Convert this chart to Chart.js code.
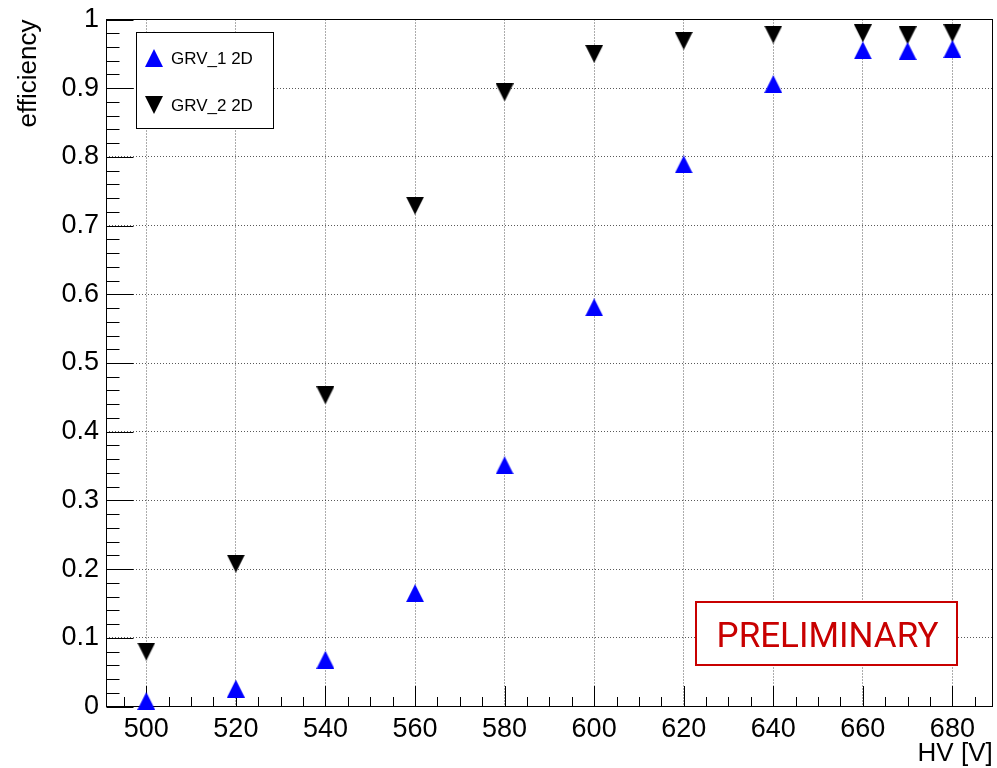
<!DOCTYPE html>
<html><head><meta charset="utf-8">
<script src="https://cdn.jsdelivr.net/npm/chart.js@4/dist/chart.umd.min.js"></script>
<style>html,body{margin:0;padding:0;background:#fff;overflow:hidden;} canvas{display:block;}</style>
</head><body>
<canvas id="c" width="997" height="768"></canvas>
<script>
// ---- data ----
const hvValues   = [500, 520, 540, 560, 580, 600, 620, 640, 660, 670, 680];
const grv1Eff    = [0.008, 0.026, 0.068, 0.165, 0.351, 0.581, 0.789, 0.906, 0.955, 0.954, 0.957];
const grv2Eff    = [0.080, 0.208, 0.453, 0.729, 0.894, 0.950, 0.969, 0.978, 0.980, 0.977, 0.980];
const seriesLabels = ['GRV_1 2D', 'GRV_2 2D'];
const xTickValues = [500, 520, 540, 560, 580, 600, 620, 640, 660, 680];
const yTickValues = [0, 0.1, 0.2, 0.3, 0.4, 0.5, 0.6, 0.7, 0.8, 0.9, 1];
const xTitle = 'HV [V]';
const yTitle = 'efficiency';
const stampText = 'PRELIMINARY';

// ---- marker images (ROOT style triangles, centred on bounding box) ----
function triangle(color, up) {
  const c = document.createElement('canvas');
  c.width = 18; c.height = 18;
  const g = c.getContext('2d');
  g.fillStyle = color;
  g.beginPath();
  if (up) { g.moveTo(9, 0); g.lineTo(18, 18); g.lineTo(0, 18); }
  else    { g.moveTo(0, 0); g.lineTo(18, 0); g.lineTo(9, 18); }
  g.closePath(); g.fill();
  return c;
}
const markerUp = triangle('#0000ff', true);
const markerDown = triangle('#000000', false);
const markers = [markerUp, markerDown];

const FONT = "'Liberation Sans', Arial, Helvetica, sans-serif";
const AREA = { left: 106, right: 992.7, top: 19.5, bottom: 706.5 };

// ---- pin the plot frame to the ROOT pad geometry ----
const areaPlugin = {
  id: 'area',
  afterLayout(chart) {
    const a = chart.chartArea;
    Object.assign(a, AREA);
    a.width = AREA.right - AREA.left; a.height = AREA.bottom - AREA.top;
    const {x, y} = chart.scales;
    x.left = AREA.left; x.right = AREA.right; x.width = a.width;
    x.top = AREA.bottom; x.bottom = chart.height; x.height = chart.height - AREA.bottom;
    y.left = 0; y.right = AREA.left; y.width = AREA.left;
    y.top = AREA.top; y.bottom = AREA.bottom; y.height = a.height;
    x.configure(); y.configure();
  }
};

// ---- frame + inward ticks (ROOT look) ----
const framePlugin = {
  id: 'frame',
  beforeDatasetsDraw(chart) {
    const {ctx, chartArea: a, scales: {x, y}} = chart;
    const L = Math.floor(a.left) + 0.5, R = Math.floor(a.right) + 0.5;
    const T = Math.floor(a.top) + 0.5, B = Math.floor(a.bottom) + 0.5;
    ctx.save();
    ctx.strokeStyle = '#000';
    ctx.lineWidth = 1;
    ctx.beginPath();
    for (let v = Math.ceil(x.min / 5) * 5; v <= x.max; v += 5) {
      const px = Math.round(x.getPixelForValue(v)) + 0.5;
      const len = (v % 20 === 0) ? 20.5 : 9.5;
      ctx.moveTo(px, B); ctx.lineTo(px, B - len);
    }
    for (let i = 0; i <= 50; i++) {
      const v = i * 0.02;
      const py = Math.round(y.getPixelForValue(v)) + 0.5;
      const len = (i % 5 === 0) ? 27 : 13;
      ctx.moveTo(L, py); ctx.lineTo(L + len, py);
    }
    ctx.stroke();
    ctx.strokeRect(L, T, R - L, B - T);
    ctx.restore();
  }
};

// ---- legend + stamp ----
const overlayPlugin = {
  id: 'overlay',
  afterDatasetsDraw(chart) {
    const {ctx} = chart;
    ctx.save();
    ctx.fillStyle = '#fff';
    ctx.fillRect(136.5, 32.5, 137, 96);
    ctx.strokeStyle = '#000';
    ctx.lineWidth = 1;
    ctx.strokeRect(136.5, 32.5, 137, 96);
    const rows = [58, 105];
    chart.data.datasets.forEach((ds, i) => {
      const m = markers[i];
      ctx.drawImage(m, 154 - m.width / 2, rows[i] - m.height / 2);
      ctx.fillStyle = '#000';
      ctx.font = '17px ' + FONT;
      ctx.textAlign = 'left';
      ctx.textBaseline = 'alphabetic';
      ctx.fillText(ds.label, 171, rows[i] + 6.3);
    });
    ctx.fillStyle = '#fff';
    ctx.fillRect(696, 602, 261, 63);
    ctx.strokeStyle = 'rgb(200,0,0)';
    ctx.lineWidth = 2;
    ctx.strokeRect(696, 602, 261, 63);
    ctx.fillStyle = 'rgb(200,0,0)';
    ctx.font = "35px Roboto, 'Liberation Sans', sans-serif";
    ctx.textAlign = 'center';
    ctx.textBaseline = 'alphabetic';
    ctx.fillText(stampText, 827.5, 647);
    ctx.restore();
  }
};

const gridCommon = { color: 'rgba(0,0,0,0.65)', lineWidth: 1, drawTicks: false };
const fmt = v => String(+Number(v).toFixed(3));

new Chart(document.getElementById('c').getContext('2d'), {
  type: 'scatter',
  data: {
    datasets: [
      { label: seriesLabels[0], data: hvValues.map((v, i) => ({x: v, y: grv1Eff[i]})),
        pointStyle: markerUp, pointRadius: 9, pointHoverRadius: 9, showLine: false, clip: false },
      { label: seriesLabels[1], data: hvValues.map((v, i) => ({x: v, y: grv2Eff[i]})),
        pointStyle: markerDown, pointRadius: 9, pointHoverRadius: 9, showLine: false, clip: false }
    ]
  },
  options: {
    responsive: false,
    animation: false,
    events: [],
    layout: { padding: { top: 19.5, right: 4.3, left: 0, bottom: 0 } },
    plugins: { legend: { display: false }, tooltip: { enabled: false } },
    scales: {
      x: {
        type: 'linear', min: 491, max: 689,
        afterFit(s) { s.height = 61.5; s.paddingLeft = 0; s.paddingRight = 0; },
        afterBuildTicks(s) { s.ticks = xTickValues.map(v => ({ value: v })); },
        grid: gridCommon,
        border: { display: false, dash: [1, 2] },
        ticks: { color: '#000', font: { family: FONT, size: 27 }, padding: 7, maxRotation: 0, autoSkip: false, callback: fmt },
        title: { display: true, text: xTitle, align: 'end', color: '#000',
                 font: { family: FONT, size: 26, lineHeight: 1 }, padding: { top: 0, bottom: 1 } }
      },
      y: {
        type: 'linear', min: 0, max: 1,
        afterFit(s) { s.width = 106; s.paddingTop = 0; s.paddingBottom = 0; },
        afterBuildTicks(s) { s.ticks = yTickValues.map(v => ({ value: v })); },
        grid: gridCommon,
        border: { display: false, dash: [1, 2] },
        ticks: { color: '#000', font: { family: FONT, size: 27 }, padding: 7, autoSkip: false, callback: fmt },
        title: { display: true, text: yTitle, align: 'end', color: '#000',
                 font: { family: FONT, size: 26, lineHeight: 1 }, padding: { top: 16, bottom: 0 } }
      }
    }
  },
  plugins: [areaPlugin, framePlugin, overlayPlugin]
});
</script>
</body></html>
